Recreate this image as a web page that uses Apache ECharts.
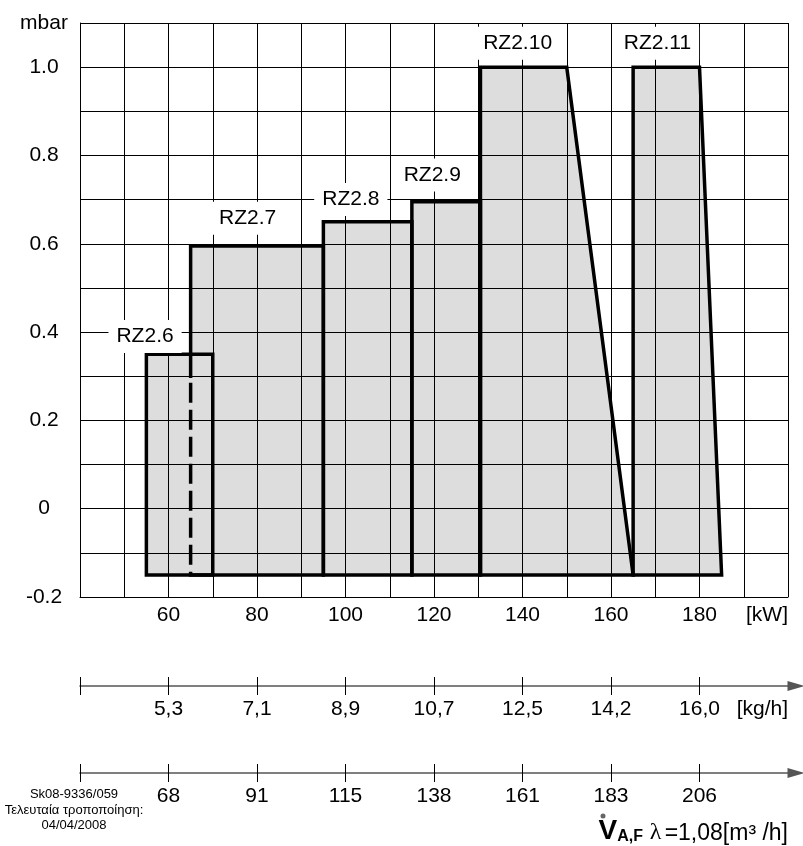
<!DOCTYPE html>
<html><head><meta charset="utf-8">
<script src="https://cdn.jsdelivr.net/npm/echarts@6/dist/echarts.min.js"></script>
<style>html,body{margin:0;padding:0;background:#fff}#c{width:803px;height:846px}</style>
</head><body><div id="c"></div>
<script>
const FONT = "'Liberation Sans', Arial, sans-serif";
// ---- data ----
const kwTicks = [60, 80, 100, 120, 140, 160, 180];
const kgLabels = ['5,3', '7,1', '8,9', '10,7', '12,5', '14,2', '16,0'];
const m3Labels = ['68', '91', '115', '138', '161', '183', '206'];
const models = ['RZ2.6', 'RZ2.7', 'RZ2.8', 'RZ2.9', 'RZ2.10', 'RZ2.11'];
// polygon vertices per model: [kW, mbar]
const rz26 = [[55, -0.15], [55, 0.35], [70, 0.35], [70, -0.15]];
const rz27 = [[65, -0.15], [65, 0.595], [95, 0.595], [95, -0.15]];
const rz28 = [[95, -0.15], [95, 0.65], [115, 0.65], [115, -0.15]];
const rz29 = [[115, -0.15], [115, 0.695], [130.5, 0.695], [130.5, -0.15]];
const rz210 = [[130.5, -0.15], [130.5, 1.0], [150, 1.0], [165, -0.15]];
const rz211 = [[165, -0.15], [165, 1.0], [180, 1.0], [185, -0.15]];
const shapes = [rz26, rz27, rz28, rz29, rz210, rz211];
// RZ2.7 left edge is dashed below this value (inside RZ2.6)
const rz27DashTop = 0.30;
// label anchor points [kW, mbar]
const labelAnchors = [[54.7, 0.39], [77.9, 0.658], [101.2, 0.70], [119.6, 0.756], [138.9, 1.054], [170.5, 1.054]];

// ---- build ----
const chart = echarts.init(document.getElementById('c'), null, {renderer: 'canvas'});

const outlineSeries = [];
const solidStyle = {color: '#000', width: 3.5, cap: 'square', join: 'miter', opacity: 1};
shapes.forEach((pts, i) => {
  let data;
  if (i === 1) {
    data = [[pts[0][0], rz27DashTop], pts[1], pts[2], pts[3], pts[0]];
  } else {
    data = pts.concat([pts[0]]);
  }
  outlineSeries.push({
    type: 'line', data: data, symbol: 'none', silent: true, z: 5,
    lineStyle: solidStyle, animation: false
  });
});
outlineSeries.push({
  type: 'line', data: [[rz27[0][0], rz27DashTop - 0.015], rz27[0]], symbol: 'none', silent: true, z: 5,
  lineStyle: {color: '#000', width: 3.5, type: [20, 7], cap: 'butt'}, animation: false
});

const axisBase = {
  type: 'value', min: 40, max: 200, position: 'bottom', gridIndex: 0,
  splitLine: {show: false}
};
const arrowLine = {show: true, onZero: false, symbol: ['none', 'triangle'], symbolSize: [10, 17], symbolOffset: [0, 8],
  lineStyle: {color: '#555', width: 1.6}};

const option = {
  animation: false,
  backgroundColor: '#fff',
  textStyle: {fontFamily: FONT},
  grid: {left: 80, right: 15, top: 23, bottom: 249, containLabel: false},
  xAxis: [
    {
      type: 'value', min: 40, max: 200, interval: 10, z: 3,
      axisLine: {show: true, onZero: false, lineStyle: {color: '#000', width: 1}},
      axisTick: {show: false},
      splitLine: {show: true, lineStyle: {color: '#000', width: 1}},
      axisLabel: {
        customValues: kwTicks.concat([200]), margin: 8,
        color: '#000', fontSize: 21, fontFamily: FONT, alignMaxLabel: 'right',
        formatter: v => v === 200 ? '[kW]' : String(v)
      }
    },
    Object.assign({}, axisBase, {
      offset: 89,
      axisLine: arrowLine,
      axisTick: {show: true, length: 9, customValues: [40].concat(kwTicks), lineStyle: {color: '#000', width: 1}},
      axisLabel: {customValues: kwTicks.concat([200]), margin: 13, color: '#000', fontSize: 21, fontFamily: FONT,
        alignMaxLabel: 'right',
        formatter: v => v === 200 ? '[kg/h]' : kgLabels[kwTicks.indexOf(v)]}
    }),
    Object.assign({}, axisBase, {
      offset: 89,
      axisLine: {show: false, onZero: false},
      axisTick: {show: true, inside: true, length: 9, customValues: [40].concat(kwTicks), lineStyle: {color: '#000', width: 1}},
      axisLabel: {show: false}
    }),
    Object.assign({}, axisBase, {
      offset: 176,
      axisLine: arrowLine,
      axisTick: {show: true, length: 9, customValues: [40].concat(kwTicks), lineStyle: {color: '#000', width: 1}},
      axisLabel: {customValues: kwTicks, margin: 13, color: '#000', fontSize: 21, fontFamily: FONT,
        formatter: v => m3Labels[kwTicks.indexOf(v)]}
    }),
    Object.assign({}, axisBase, {
      offset: 176,
      axisLine: {show: false, onZero: false},
      axisTick: {show: true, inside: true, length: 9, customValues: [40].concat(kwTicks), lineStyle: {color: '#000', width: 1}},
      axisLabel: {show: false}
    })
  ],
  yAxis: {
    type: 'value', min: -0.2, max: 1.1, interval: 0.1, z: 3,
    axisLine: {show: true, lineStyle: {color: '#000', width: 1}},
    axisTick: {show: false},
    splitLine: {show: true, lineStyle: {color: '#000', width: 1}},
    axisLabel: {
      showMaxLabel: true, showMinLabel: true, align: 'center', margin: 36,
      color: '#000', fontSize: 21, fontFamily: FONT,
      formatter: v => {
        const t = Math.round(v * 10);
        if (t === 11) return 'mbar';
        if (t % 2 !== 0) return '';
        if (t === 0) return '0';
        return (t / 10).toFixed(1);
      }
    }
  },
  series: [
    {
      type: 'custom', z: 1, silent: true, xAxisIndex: 0,
      data: shapes.map(s => s[0]),
      renderItem: (params, api) => {
        const pts = shapes[params.dataIndex].map(p => api.coord(p));
        return {type: 'polygon', shape: {points: pts}, style: {fill: '#dddddd', stroke: null}};
      }
    }
  ].concat(outlineSeries).concat([
    {
      type: 'scatter', z: 10, silent: true, symbolSize: 0,
      itemStyle: {opacity: 1},
      data: models.map((m, i) => ({name: m, value: labelAnchors[i]})),
      label: {
        show: true, position: 'inside', formatter: '{b}', color: '#000', opacity: 1,
        fontSize: 21, fontFamily: FONT, backgroundColor: '#fff', padding: [6, 8, 6, 8]
      }
    }
  ]),
  graphic: [
    {type: 'text', x: 74, y: 787, z: 20, style: {
      text: 'Sk08-9336/059\nΤελευταία τροποποίηση:\n04/04/2008',
      font: "13px 'Liberation Sans', Arial, sans-serif", fill: '#000',
      align: 'center', textAlign: 'center', lineHeight: 15.5
    }},
    {type: 'text', x: 788, y: 845, z: 20, style: {
      text: '{v|V}{s|A,F}  {l|λ} {n|=1,08[m³ /h]}',
      align: 'right', textAlign: 'right', verticalAlign: 'bottom', textVerticalAlign: 'bottom',
      rich: {
        v: {fontFamily: FONT, fontWeight: 'bold', fontSize: 28, fill: '#000', verticalAlign: 'bottom'},
        s: {fontFamily: FONT, fontWeight: 'bold', fontSize: 16, fill: '#000', verticalAlign: 'bottom'},
        l: {fontFamily: "'Liberation Serif', serif", fontSize: 24, fill: '#000', verticalAlign: 'bottom'},
        n: {fontFamily: FONT, fontSize: 23, fill: '#000', verticalAlign: 'bottom'}
      }
    }},
    {type: 'circle', z: 20, shape: {cx: 603, cy: 816, r: 2.5}, style: {fill: '#666'}}
  ]
};
chart.setOption(option);
</script>
</body></html>
